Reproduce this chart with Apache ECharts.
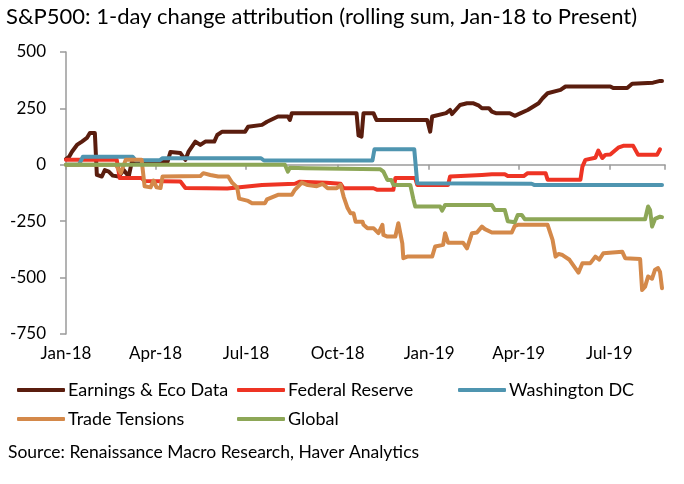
<!DOCTYPE html>
<html>
<head>
<meta charset="utf-8">
<script src="https://cdn.jsdelivr.net/npm/echarts@6/dist/echarts.min.js"></script>
<style>html,body{margin:0;padding:0;background:#fff}#c{width:684px;height:484px}</style>
</head>
<body>
<div id="c"></div>
<script>
const FONT = 'Lato, "Noto Sans", sans-serif';
const titleText = 'S&P500: 1-day change attribution (rolling sum, Jan-18 to Present)';
const sourceText = 'Source: Renaissance Macro Research, Haver Analytics';
const seriesNames = ['Earnings & Eco Data', 'Federal Reserve', 'Washington DC', 'Trade Tensions', 'Global'];
const monthNames = ['Jan','Feb','Mar','Apr','May','Jun','Jul','Aug','Sep','Oct','Nov','Dec'];

const earnings = [
['2018-01-01',25],['2018-01-04',35],['2018-01-07',58],['2018-01-12',88],['2018-01-17',103],['2018-01-22',119],['2018-01-25',141],['2018-01-30',141],['2018-02-01',-45],['2018-02-06',-52],['2018-02-09',-23],['2018-02-13',-30],['2018-02-17',-48],['2018-02-23',-52],['2018-02-28',-23],['2018-03-05',-52],['2018-03-08',10],['2018-03-20',14],['2018-04-13',13],['2018-04-16',57],['2018-04-26',52],['2018-05-01',22],['2018-05-04',57],['2018-05-11',103],['2018-05-16',88],['2018-05-21',103],['2018-05-30',103],['2018-06-02',132],['2018-06-07',147],['2018-06-30',147],['2018-07-03',169],['2018-07-17',177],['2018-07-22',191],['2018-08-02',214],['2018-08-12',214],['2018-08-14',199],['2018-08-16',229],['2018-10-20',229],['2018-10-22',130],['2018-10-25',125],['2018-10-27',229],['2018-11-06',229],['2018-11-09',199],['2018-12-30',199],['2019-01-02',147],['2019-01-04',214],['2019-01-18',229],['2019-01-22',243],['2019-01-24',225],['2019-02-01',265],['2019-02-08',273],['2019-02-14',273],['2019-02-20',262],['2019-02-23',251],['2019-03-02',251],['2019-03-05',236],['2019-03-09',229],['2019-03-23',229],['2019-03-28',217],['2019-04-03',229],['2019-04-10',243],['2019-04-21',273],['2019-04-25',295],['2019-04-30',317],['2019-05-13',332],['2019-05-18',347],['2019-07-02',347],['2019-07-05',340],['2019-07-19',340],['2019-07-24',359],['2019-08-14',364],['2019-08-21',372],['2019-08-23',372]
];
const fedReserve = [
['2018-01-01',22],['2018-02-21',22],['2018-02-24',-59],['2018-03-18',-59],['2018-03-21',-72],['2018-04-26',-74],['2018-05-01',-103],['2018-06-12',-105],['2018-06-14',-98],['2018-07-17',-90],['2018-08-19',-84],['2018-08-24',-75],['2018-09-20',-80],['2018-10-04',-84],['2018-10-07',-104],['2018-11-06',-104],['2018-11-10',-111],['2018-11-26',-111],['2018-11-28',-59],['2018-12-18',-59],['2018-12-20',-89],['2019-01-20',-89],['2019-01-22',-52],['2019-02-23',-45],['2019-03-05',-42],['2019-03-18',-42],['2019-03-21',-50],['2019-04-06',-50],['2019-04-10',-37],['2019-04-28',-37],['2019-04-30',-66],['2019-06-02',-66],['2019-06-04',-8],['2019-06-07',22],['2019-06-17',31],['2019-06-20',63],['2019-06-24',30],['2019-06-27',44],['2019-07-02',46],['2019-07-10',76],['2019-07-15',84],['2019-07-25',84],['2019-07-30',44],['2019-08-18',44],['2019-08-21',69]
];
const washingtonDC = [
['2018-01-01',0],['2018-01-14',0],['2018-01-18',36],['2018-03-09',36],['2018-03-12',20],['2018-04-05',20],['2018-04-08',29],['2018-07-16',29],['2018-07-19',19],['2018-11-05',19],['2018-11-07',69],['2018-12-17',69],['2018-12-20',-82],['2019-04-14',-84],['2019-04-17',-90],['2019-08-23',-90]
];
const tradeTensions = [
['2018-01-01',0],['2018-02-20',0],['2018-02-22',-8],['2018-02-25',-36],['2018-03-02',22],['2018-03-18',22],['2018-03-21',-95],['2018-03-27',-100],['2018-03-30',-70],['2018-04-02',-100],['2018-04-06',-103],['2018-04-08',-52],['2018-05-16',-50],['2018-05-19',-37],['2018-05-26',-45],['2018-06-03',-52],['2018-06-13',-52],['2018-06-17',-80],['2018-06-22',-100],['2018-06-24',-150],['2018-07-03',-160],['2018-07-07',-170],['2018-07-20',-170],['2018-07-22',-153],['2018-08-02',-133],['2018-08-16',-133],['2018-08-19',-111],['2018-08-26',-79],['2018-09-01',-90],['2018-09-10',-95],['2018-09-16',-85],['2018-09-21',-104],['2018-09-30',-104],['2018-10-04',-89],['2018-10-07',-141],['2018-10-11',-192],['2018-10-14',-215],['2018-10-17',-215],['2018-10-19',-252],['2018-10-26',-252],['2018-10-27',-266],['2018-10-31',-281],['2018-11-06',-281],['2018-11-11',-303],['2018-11-15',-266],['2018-11-16',-311],['2018-11-20',-318],['2018-11-28',-318],['2018-12-01',-259],['2018-12-05',-348],['2018-12-06',-414],['2018-12-10',-407],['2019-01-04',-407],['2019-01-07',-362],['2019-01-15',-355],['2019-01-17',-303],['2019-01-20',-345],['2019-02-04',-345],['2019-02-08',-370],['2019-02-11',-330],['2019-02-13',-303],['2019-02-18',-300],['2019-02-23',-274],['2019-02-26',-285],['2019-03-05',-300],['2019-03-25',-300],['2019-03-28',-271],['2019-03-31',-266],['2019-04-30',-266],['2019-05-05',-333],['2019-05-08',-407],['2019-05-11',-395],['2019-05-15',-400],['2019-05-22',-421],['2019-05-31',-478],['2019-06-04',-436],['2019-06-12',-436],['2019-06-17',-407],['2019-06-21',-420],['2019-06-25',-392],['2019-06-27',-385],['2019-07-14',-385],['2019-07-17',-414],['2019-08-01',-418],['2019-08-03',-555],['2019-08-06',-540],['2019-08-09',-495],['2019-08-13',-505],['2019-08-16',-465],['2019-08-19',-458],['2019-08-21',-475],['2019-08-23',-547]
];
const global = [
['2018-01-01',0],['2018-08-09',0],['2018-08-12',-30],['2018-08-14',-13],['2018-08-30',-15],['2018-09-01',-20],['2018-11-13',-20],['2018-11-16',-30],['2018-11-20',-67],['2018-11-24',-67],['2018-11-26',-89],['2018-12-13',-89],['2018-12-16',-150],['2018-12-18',-185],['2019-01-12',-185],['2019-01-14',-203],['2019-01-17',-178],['2019-03-05',-178],['2019-03-08',-200],['2019-03-18',-200],['2019-03-21',-250],['2019-03-28',-255],['2019-03-31',-222],['2019-04-04',-222],['2019-04-07',-241],['2019-08-06',-241],['2019-08-09',-185],['2019-08-11',-200],['2019-08-13',-274],['2019-08-16',-240],['2019-08-21',-230],['2019-08-23',-232]
];

const seriesData = [earnings, fedReserve, washingtonDC, tradeTensions, global];
const colors = ['#5A1D0E', '#EE3424', '#4F95B0', '#D4894A', '#8DA757'];
const xMin = '2018-01-01', xMax = '2019-08-26';
const DAY = 86400000;

function fmtDate(v) {
  const d = new Date(v);
  return monthNames[d.getMonth()] + '-' + String(d.getFullYear()).slice(2);
}

const legendPos = [
  {left: 17, top: 381}, {left: 237, top: 381}, {left: 458, top: 381},
  {left: 17, top: 410}, {left: 237, top: 410}
];

const xCommon = {type: 'time', min: xMin, max: xMax, minInterval: 85 * DAY, maxInterval: 95 * DAY};

const chart = echarts.init(document.getElementById('c'), null, {renderer: 'canvas'});
chart.setOption({
  animation: false,
  backgroundColor: '#fff',
  title: {
    text: titleText, left: 6, top: 6, padding: 0,
    textStyle: {fontFamily: FONT, fontSize: 22, fontWeight: 'normal', color: '#000'}
  },
  graphic: [{
    type: 'text', left: 8, top: 443,
    style: {text: sourceText, font: '17.5px ' + FONT, fill: '#000'}
  }],
  legend: seriesNames.map((n, i) => ({
    data: [n], left: legendPos[i].left, top: legendPos[i].top, padding: 0,
    icon: 'roundRect', itemWidth: 48, itemHeight: 4,
    textStyle: {fontFamily: FONT, fontSize: 18, color: '#000', padding: [0, 0, 0, -2]},
    selectedMode: false
  })),
  grid: {left: 66, right: 19, top: 52, height: 282, containLabel: false},
  xAxis: [Object.assign({}, xCommon, {
    axisLine: {show: false, onZero: false}, axisTick: {show: false}, splitLine: {show: false},
    axisLabel: {formatter: fmtDate, fontFamily: FONT, fontSize: 17, color: '#000', margin: 11, hideOverlap: false}
  }), Object.assign({}, xCommon, {
    position: 'bottom',
    axisLine: {show: true, onZero: true, lineStyle: {color: '#9a9a9a', width: 1.5}},
    axisTick: {show: true, length: 5, lineStyle: {color: '#9a9a9a', width: 1.5}},
    axisLabel: {show: false}, splitLine: {show: false}
  })],
  yAxis: {
    type: 'value', min: -750, max: 500, interval: 250,
    axisLine: {show: true, lineStyle: {color: '#9a9a9a', width: 1.5}},
    axisTick: {show: true, length: 6, lineStyle: {color: '#9a9a9a', width: 1.5}},
    splitLine: {show: false},
    axisLabel: {fontFamily: FONT, fontSize: 17, color: '#000', margin: 20}
  },
  series: seriesNames.map((n, i) => ({
    name: n, type: 'line', data: seriesData[i], xAxisIndex: 0,
    showSymbol: false, symbol: 'none', color: colors[i],
    lineStyle: {width: 4, color: colors[i], cap: 'round', join: 'round'},
    z: 2 + i
  }))
});
</script>
</body>
</html>
